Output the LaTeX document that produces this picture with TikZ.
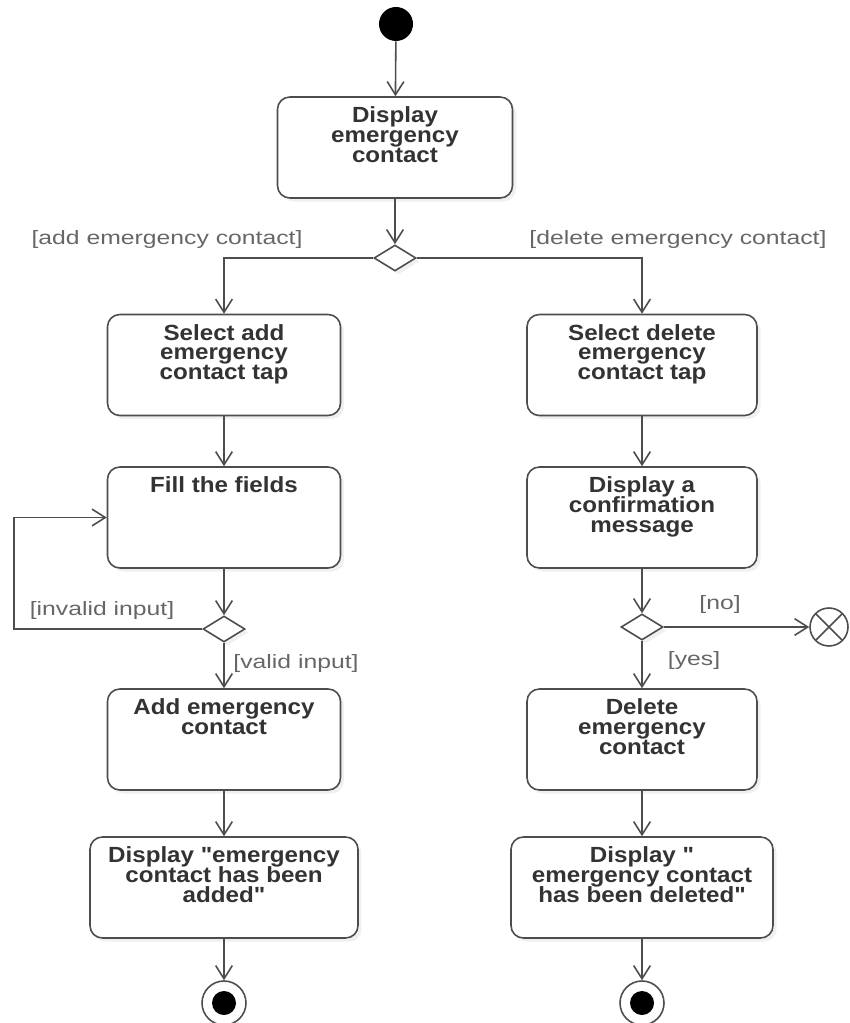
\documentclass[tikz,border=0pt]{standalone}
\usepackage{fontspec}
\setmainfont{Liberation Sans}
\newfontfamily\actfont{Liberation Sans}[FakeStretch=1.1]
\newfontfamily\guardfont{Liberation Sans}[FakeStretch=1.28]
\usepackage{xcolor}
\definecolor{linec}{HTML}{4D4D4D}
\definecolor{textc}{HTML}{333333}
\definecolor{guardc}{HTML}{666666}
\usetikzlibrary{shapes.geometric,arrows.meta,positioning,shadows}

\begin{document}
\begin{tikzpicture}[x=0.02cm, y=-0.02cm,
    act/.style={rectangle, rounded corners=7pt, draw=linec, line width=0.9pt, fill=white, inner sep=0pt,
        drop shadow={shadow xshift=2pt, shadow yshift=-2pt, opacity=0.12},
        font=\actfont\bfseries\fontsize{12.5}{11.3}\selectfont, text=textc,
        execute at begin node={\begin{minipage}[c][2.02cm][t]{#1}\centering\lineskiplimit=-10pt\vspace*{5.5pt}},
        execute at end node={\end{minipage}}},
    decision/.style={diamond, draw=linec, line width=0.9pt, fill=white, minimum width=0.84cm, minimum height=0.52cm, inner sep=0pt,
        drop shadow={shadow xshift=2pt, shadow yshift=-2pt, opacity=0.12}},
    initial/.style={circle, fill=black, minimum size=0.68cm, inner sep=0pt},
    final/.style={circle, draw=linec, line width=0.9pt, fill=white, minimum size=0.88cm, inner sep=0pt,
        path picture={\fill[black] (path picture bounding box.center) circle (0.24cm);}},
    flowfinal/.style={circle, draw=linec, line width=0.9pt, fill=white, minimum size=0.76cm, inner sep=0pt,
        path picture={\draw[linec, line width=0.9pt] (path picture bounding box.north west) -- (path picture bounding box.south east)
            (path picture bounding box.north east) -- (path picture bounding box.south west);}},
    flow/.style={-{Straight Barb[length=7.5pt,width=9.5pt]}, draw=linec, line width=0.9pt},
    guard/.style={font=\guardfont\fontsize{11}{13}\selectfont, text=guardc, inner sep=0pt}
]
\useasboundingbox (0,0) rectangle (849,1023);

% Start
\node[initial] (start) at (396,24) {};
\node[act=4.7cm] (disp) at (395,147.5) {Display\\emergency\\contact};
\node[decision] (d1) at (395,258) {};

% Add branch
\node[act=4.66cm] (selAdd) at (224,365) {Select add\\emergency\\contact tap};
\node[act=4.66cm] (fill) at (224,517.5) {Fill the fields};
\node[decision] (d2) at (224,629) {};
\node[act=4.66cm] (addC) at (224,739.5) {Add emergency\\contact};
\node[act=5.36cm] (dispAdd) at (224,887.5) {Display "emergency\\contact has been\\added"};
\node[final] (end1) at (224,1003) {};

% Delete branch
\node[act=4.6cm] (selDel) at (642,365) {Select delete\\emergency\\contact tap};
\node[act=4.6cm] (conf) at (642,517.5) {Display a\\confirmation\\message};
\node[decision] (d3) at (642,627) {};
\node[flowfinal] (stop) at (829,627) {};
\node[act=4.6cm] (delC) at (642,739.5) {Delete\\emergency\\contact};
\node[act=5.24cm] (dispDel) at (642,887.5) {Display "\\emergency contact\\has been deleted"};
\node[final] (end2) at (642,1003) {};

% Guards
\node[guard] (gAdd) at (167,240) {[add emergency contact]};
\node[guard] (gDel) at (678,240) {[delete emergency contact]};
\node[guard] (gInv) at (102,610) {[invalid input]};
\node[guard] (gVal) at (296,663) {[valid input]};
\node[guard] (gNo) at (720,604) {[no]};
\node[guard] (gYes) at (694,660) {[yes]};

% Flows
\draw[flow] (start) -- (disp);
\draw[flow] (disp) -- (d1);
\draw[flow] (d1.west) -| (selAdd.north);
\draw[flow] (d1.east) -| (selDel.north);

\draw[flow] (selAdd) -- (fill);
\draw[flow] (fill) -- (d2);
\draw[flow] (d2.west) -- ++(-188,0) |- (fill.west);
\draw[flow] (d2) -- (addC);
\draw[flow] (addC) -- (dispAdd);
\draw[flow] (dispAdd) -- (end1);

\draw[flow] (selDel) -- (conf);
\draw[flow] (conf) -- (d3);
\draw[flow] (d3) -- (stop);
\draw[flow] (d3) -- (delC);
\draw[flow] (delC) -- (dispDel);
\draw[flow] (dispDel) -- (end2);

\end{tikzpicture}
\end{document}
